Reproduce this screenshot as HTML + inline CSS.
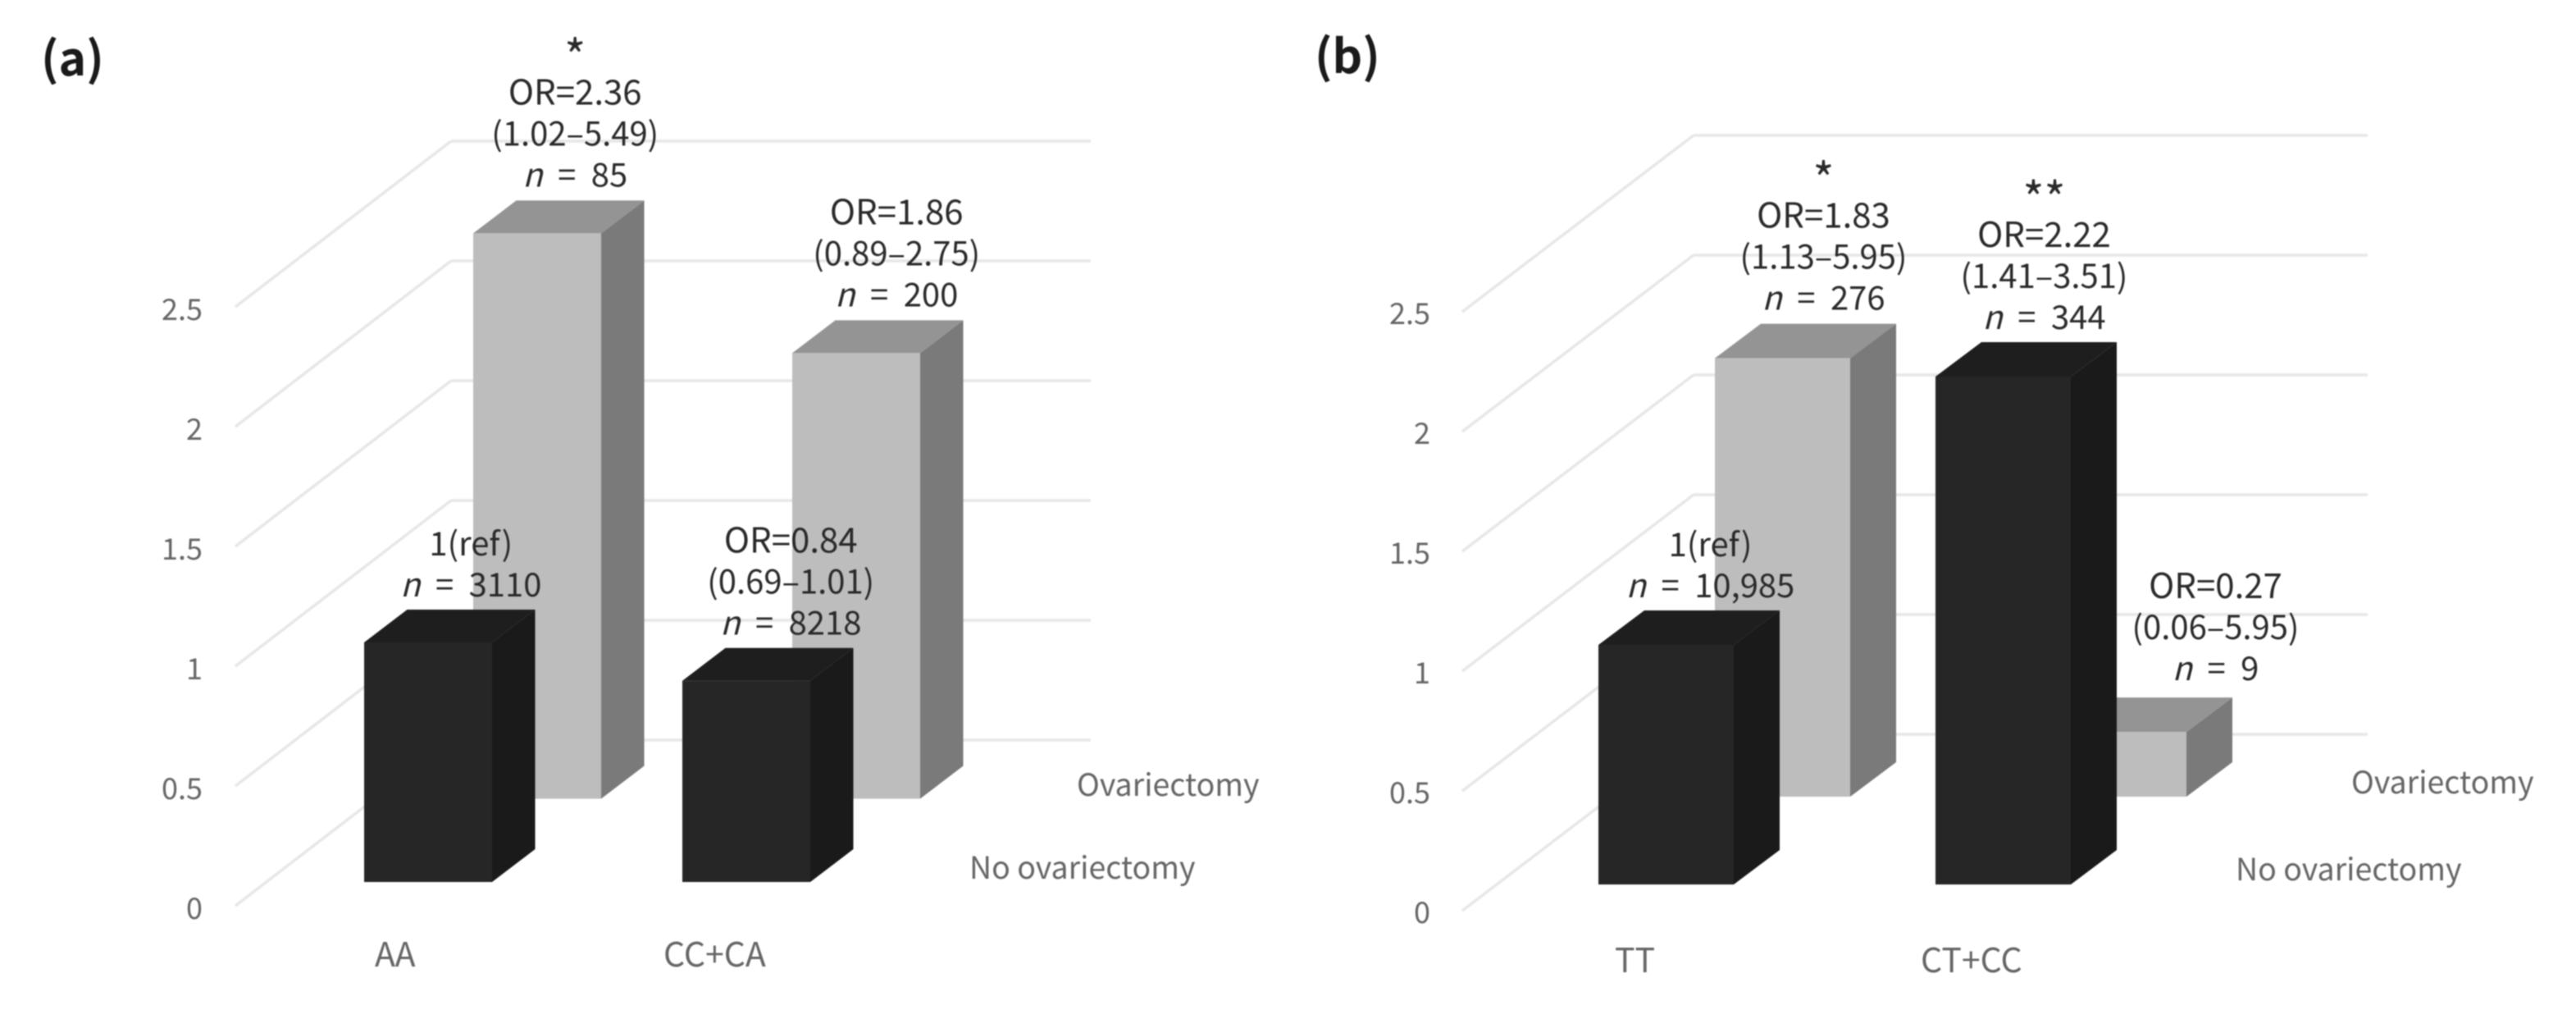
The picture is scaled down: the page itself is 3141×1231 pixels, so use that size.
<!DOCTYPE html>
<html lang="en">
<head>
<meta charset="utf-8">
<title>Odds ratio 3D bar charts</title>
<style>
html,body{margin:0;padding:0;background:#fff;width:3141px;height:1231px;overflow:hidden}
svg{display:block;filter:blur(0.9px)}
text{font-family:"Noto Sans CJK KR","Liberation Sans",sans-serif}
</style>
</head>
<body>
<svg id="chart" xmlns="http://www.w3.org/2000/svg" width="3141" height="1231" viewBox="0 0 3141 1231"></svg>
<script>
const tickValues = [0, 0.5, 1, 1.5, 2, 2.5];
const tickLabels = ['0', '0.5', '1', '1.5', '2', '2.5'];
const seriesNames = ['No ovariectomy', 'Ovariectomy'];

const panelACategories = ['AA', 'CC+CA'];
const panelANoOvariectomy = [1, 0.84];
const panelAOvariectomy = [2.36, 1.86];
const panelANoOvariectomyLabels = [['1(ref)', 'n = 3110'], ['OR=0.84', '(0.69–1.01)', 'n = 8218']];
const panelAOvariectomyLabels = [['*', 'OR=2.36', '(1.02–5.49)', 'n = 85'], ['OR=1.86', '(0.89–2.75)', 'n = 200']];

const panelBCategories = ['TT', 'CT+CC'];
const panelBNoOvariectomy = [1, 2.12];
const panelBOvariectomy = [1.83, 0.27];
const panelBNoOvariectomyLabels = [['1(ref)', 'n = 10,985'], ['**', 'OR=2.22', '(1.41–3.51)', 'n = 344']];
const panelBOvariectomyLabels = [['*', 'OR=1.83', '(1.13–5.95)', 'n = 276'], ['OR=0.27', '(0.06–5.95)', 'n = 9']];

const NS = 'http://www.w3.org/2000/svg';
const svg = document.getElementById('chart');
const unit = 292;

function add(tag, attrs, name, parent) {
  const el = document.createElementNS(NS, tag);
  for (const k in attrs) el.setAttribute(k, attrs[k]);
  
  
  (parent || svg).appendChild(el);
  return el;
}
function addText(str, x, y, size, fill, anchor, name, parent, weight) {
  const t = add('text', {x: x, y: y, 'font-size': size, fill: fill, 'text-anchor': anchor}, name, parent);
  if (weight) t.setAttribute('font-weight', weight);
  if (str.indexOf('n = ') === 0) {
    t.setAttribute('word-spacing', '9.5');
    const i = document.createElementNS(NS, 'tspan');
    i.setAttribute('font-style', 'italic');
    i.textContent = 'n';
    t.appendChild(i);
    t.appendChild(document.createTextNode(' = ' + str.slice(4)));
  } else {
    t.textContent = str;
  }
  return t;
}
function drawBar(g, left, base, value, w, dx, dy, cols, name) {
  const top = base - value * unit;
  add('polygon', {points: [left + w, base, left + w + dx, base - dy, left + w + dx, top - dy, left + w, top].join(' '), fill: cols[1]}, name + '-side', g);
  add('polygon', {points: [left, top, left + dx, top - dy, left + w + dx, top - dy, left + w, top].join(' '), fill: cols[2]}, name + '-top', g);
  add('rect', {x: left, y: top, width: w, height: base - top, fill: cols[0]}, name + '-front', g);
  return top - dy;
}
function drawLabel(g, lines, cx, bottomY, name) {
  lines.forEach(function (line, i) {
    const centerY = bottomY - (lines.length - 1 - i) * 50;
    const isStar = line.charAt(0) === '*';
    const isOr = line.indexOf('OR') === 0;
    const size = isStar ? 56 : (isOr ? 42 : 40);
    addText(line, cx, centerY + (isStar ? 27 : 15), size, '#2a2a2a', 'middle', name + '-line-' + (i + 1), g);
  });
}

const grayCols = ['#bdbdbd', '#7a7a7a', '#949494'];
const darkCols = ['#262626', '#1a1a1a', '#1e1e1e'];

function drawPanel(p) {
  const g = add('g', {}, p.id, svg);
  addText(p.title, p.titleX, p.titleY, 57, '#1a1a1a', 'start', p.id + '-title', g, '700');

  const grid = add('g', {stroke: '#e7e7e7', 'stroke-width': 3.5, fill: 'none'}, p.id + '-gridlines', g);
  tickValues.forEach(function (v) {
    const yBack = p.backZero - v * unit;
    const yFront = p.frontZero - v * unit;
    add('line', {x1: p.frontX, y1: yFront, x2: p.backX, y2: yBack}, 'gridline-depth', grid);
    add('line', {x1: p.backX, y1: yBack, x2: p.rightX, y2: yBack}, 'gridline-back', grid);
  });
  tickValues.forEach(function (v, i) {
    const y = p.tickZero - v * unit;
    addText(tickLabels[i], p.tickX, y + 14, 36, '#666666', 'end', p.id + '-y-tick-' + tickLabels[i], g);
  });

  const grayTops = p.ovariectomy.map(function (v, i) {
    return drawBar(g, p.grayX[i], p.grayBase, v, p.w, p.dx, p.dy, grayCols, p.id + '-ovariectomy-bar-' + p.categories[i]);
  });
  const darkTops = p.noOvariectomy.map(function (v, i) {
    return drawBar(g, p.darkX[i], p.darkBase, v, p.w, p.dx, p.dy, darkCols, p.id + '-no-ovariectomy-bar-' + p.categories[i]);
  });

  p.categories.forEach(function (c, i) {
    addText(c, p.catX[i], p.catY, 41, '#666666', 'start', p.id + '-category-' + c, g);
  });
  addText(seriesNames[1], p.ovX, p.ovY + 13, 37.5, '#666666', 'start', p.id + '-series-ovariectomy', g);
  addText(seriesNames[0], p.noX, p.noY + 13, 37.5, '#666666', 'start', p.id + '-series-no-ovariectomy', g);

  p.ovariectomyLabels.forEach(function (lines, i) {
    drawLabel(g, lines, p.grayX[i] + (p.w + p.dx) / 2 + p.grayLabelDx[i], grayTops[i] - p.grayLabelGap[i], p.id + '-ovariectomy-label-' + p.categories[i]);
  });
  p.noOvariectomyLabels.forEach(function (lines, i) {
    drawLabel(g, lines, p.darkX[i] + (p.w + p.dx) / 2 + p.darkLabelDx[i], darkTops[i] - 31, p.id + '-no-ovariectomy-label-' + p.categories[i]);
  });
}

drawPanel({
  id: 'panel-a', title: '(a)', titleX: 50, titleY: 92,
  frontX: 287, backX: 550, rightX: 1330, frontZero: 1104, backZero: 902,
  tickX: 247, tickZero: 1106, w: 156, dx: 52.5, dy: 40,
  grayX: [577, 966], darkX: [444, 832], grayBase: 973.5, darkBase: 1075,
  categories: panelACategories, noOvariectomy: panelANoOvariectomy, ovariectomy: panelAOvariectomy,
  noOvariectomyLabels: panelANoOvariectomyLabels, ovariectomyLabels: panelAOvariectomyLabels,
  grayLabelDx: [20, 23], darkLabelDx: [26, 28], grayLabelGap: [32, 32],
  catX: [457, 809], catY: 1178, ovX: 1313, ovY: 957, noX: 1182, noY: 1058
});
drawPanel({
  id: 'panel-b', title: '(b)', titleX: 1603, titleY: 89,
  frontX: 1783, backX: 2065, rightX: 2887, frontZero: 1110, backZero: 895,
  tickX: 1744, tickZero: 1111, w: 165, dx: 56, dy: 42,
  grayX: [2091, 2501], darkX: [1949, 2360], grayBase: 971, darkBase: 1078,
  categories: panelBCategories, noOvariectomy: panelBNoOvariectomy, ovariectomy: panelBOvariectomy,
  noOvariectomyLabels: panelBNoOvariectomyLabels, ovariectomyLabels: panelBOvariectomyLabels,
  grayLabelDx: [22, 90], darkLabelDx: [26, 22], grayLabelGap: [32, 36],
  catX: [1969, 2342], catY: 1185, ovX: 2867, ovY: 954, noX: 2726, noY: 1060
});
</script>
</body>
</html>
